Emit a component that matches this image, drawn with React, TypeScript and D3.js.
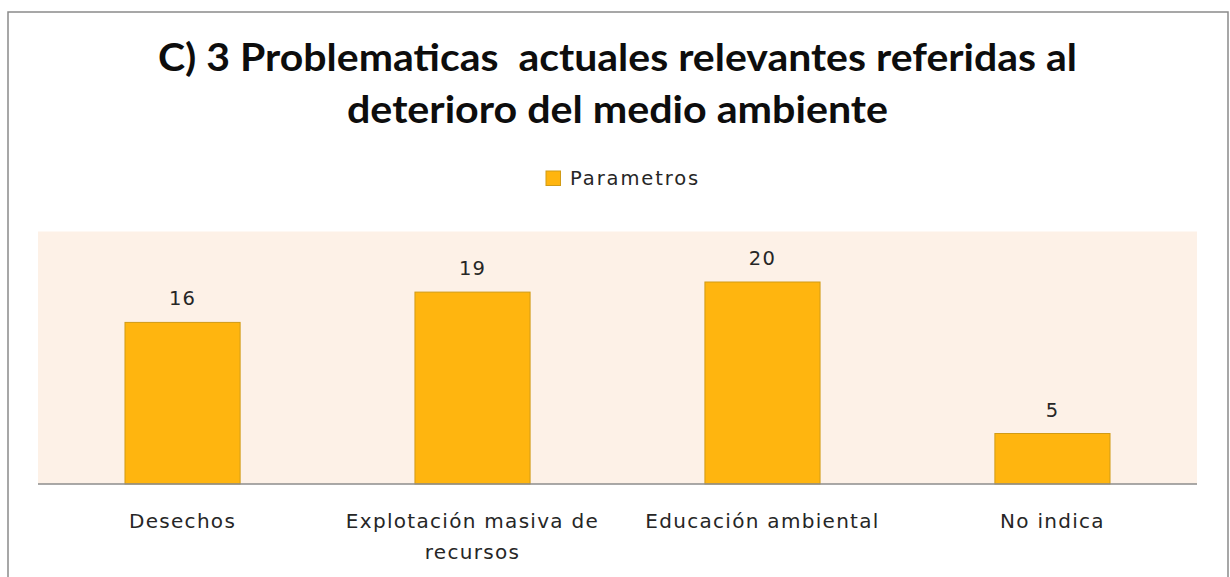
import React from "react";
import * as d3 from "d3";

const categories: string[][] = [
  ["Desechos"],
  ["Explotación masiva de", "recursos"],
  ["Educación ambiental"],
  ["No indica"],
];
const values: number[] = [16, 19, 20, 5];
const seriesName = "Parametros";
const titleLines = [
  "C) 3 Problematicas  actuales relevantes referidas al",
  "deterioro del medio ambiente",
];
const yMax = 25;

const W = 1230;
const H = 577;
const plot = { left: 38, right: 1197, top: 231.5, bottom: 484 };

export default function App() {
  const x = d3
    .scaleBand<number>()
    .domain(d3.range(values.length))
    .range([plot.left, plot.right])
    .paddingInner(0.603)
    .paddingOuter(0.3);
  const y = d3.scaleLinear().domain([0, yMax]).range([plot.bottom, plot.top]);
  const labelFont = "'DejaVu Sans', Verdana, sans-serif";

  return (
    <svg
      width={W}
      height={H}
      style={{ position: "absolute", left: 0, top: 0, background: "#fff" }}
    >
      <rect x={0} y={0} width={W} height={H} fill="#fff" />
      <rect
        x={8}
        y={12}
        width={1220}
        height={H + 20}
        fill="none"
        stroke="#8a8a8a"
        strokeWidth={1.5}
      />
      {titleLines.map((t, i) => (
        <text
          key={i}
          x={i === 0 ? 158 : 347}
          y={71 + i * 52}
          fontFamily="Lato, 'Open Sans', sans-serif"
          fontWeight="bold"
          fontSize={38}
          fill="#0d0d0d"
          textLength={i === 0 ? 919 : 541}
          lengthAdjust="spacingAndGlyphs"
          style={{ whiteSpace: "pre" }}
        >
          {t}
        </text>
      ))}
      {/* legend */}
      <rect x={546} y={171} width={14.5} height={14.5} fill="#FFB50F" stroke="#D19B16" strokeWidth={1} />
      <text
        x={570}
        y={185}
        fontFamily={labelFont}
        fontSize={19.5}
        letterSpacing={1.9}
        fill="#262626"
      >
        {seriesName}
      </text>
      {/* plot background */}
      <rect
        x={plot.left}
        y={plot.top}
        width={plot.right - plot.left}
        height={plot.bottom - plot.top}
        fill="#FDF1E7"
      />
      {values.map((v, i) => (
        <g key={i}>
          <rect
            x={x(i)!}
            y={y(v)}
            width={x.bandwidth()}
            height={y(0) - y(v)}
            fill="#FFB50F"
            stroke="#D19B16"
            strokeWidth={1}
          />
          <text
            x={x(i)! + x.bandwidth() / 2}
            y={y(v) - 17}
            textAnchor="middle"
            fontFamily={labelFont}
            fontSize={19.5}
            letterSpacing={1.2}
            fill="#262626"
          >
            {v}
          </text>
          {categories[i].map((line, j) => (
            <text
              key={j}
              x={x(i)! + x.bandwidth() / 2}
              y={528 + j * 31}
              textAnchor="middle"
              fontFamily={labelFont}
              fontSize={20}
              letterSpacing={1.3}
              fill="#262626"
            >
              {line}
            </text>
          ))}
        </g>
      ))}
      <line
        x1={plot.left}
        x2={plot.right}
        y1={plot.bottom}
        y2={plot.bottom}
        stroke="#8c8c8c"
        strokeWidth={1.5}
      />
    </svg>
  );
}
